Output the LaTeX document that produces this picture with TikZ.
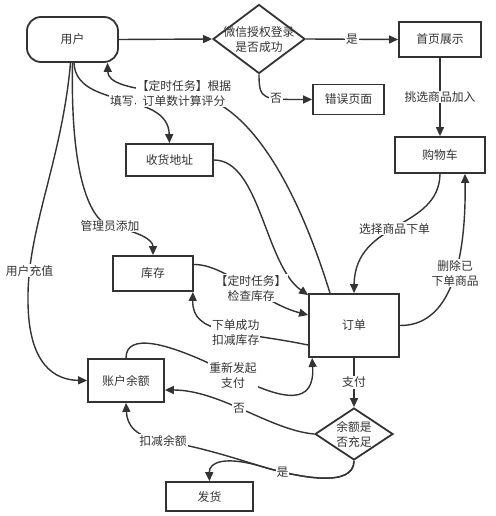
\documentclass[tikz,border=0pt]{standalone}
\usepackage{fontspec}
\setmainfont{Noto Sans CJK SC}
\usetikzlibrary{shapes.geometric,arrows.meta}
\definecolor{ink}{HTML}{333333}
\newcommand\dfont{\fontsize{11.8}{15}\selectfont}
\begin{document}
\begin{tikzpicture}[x=1pt,y=-1pt,
  box/.style={draw=ink,line width=1.8pt,fill=white,text=ink,font=\dfont,inner sep=0pt},
  dia/.style={box,diamond},
  ntext/.style={text=ink,font=\dfont,align=center,inner sep=0pt},
  arr/.style={draw=ink,line width=1.4pt,-{Triangle[length=9pt,width=8pt]}},
  lbl/.style={fill=white,text=ink,font=\dfont,align=center,inner sep=1pt}]
\useasboundingbox[fill=white] (0,0) rectangle (495,516);

% nodes
\node[box,rounded corners=14pt,minimum width=91pt,minimum height=45pt] (user) at (72.5,39.5) {用户};
\node[dia,minimum width=92pt,minimum height=69pt] (d1) at (259,39) {};
\node[ntext] (d1t) at (259,40) {微信授权登录\\是否成功};
\node[box,minimum width=82pt,minimum height=35pt] (home) at (440,39.5) {首页展示};
\node[box,minimum width=71pt,minimum height=30pt] (err) at (348.5,99.5) {错误页面};
\node[box,minimum width=87pt,minimum height=32pt] (addr) at (169.5,160) {收货地址};
\node[box,minimum width=90pt,minimum height=36pt] (cart) at (440,155) {购物车};
\node[box,minimum width=80pt,minimum height=35pt] (stock) at (153,273.5) {库存};
\node[box,minimum width=90pt,minimum height=63pt] (order) at (354,325.5) {订单};
\node[box,minimum width=76pt,minimum height=43pt] (acct) at (126,380.5) {账户余额};
\node[dia,minimum width=78pt,minimum height=52pt] (d2) at (354,434) {};
\node[ntext] (d2t) at (354,434) {余额是\\否充足};
\node[box,minimum width=87pt,minimum height=29pt] (ship) at (209.5,496.5) {发货};

% connectors
\draw[arr] (user.east) -- (d1.west);
\draw[arr] (d1.east) -- node[lbl]{是} (home.west);
\draw[arr] (d1.south) .. controls (259,100) and (263,99.5) .. node[lbl,pos=0.66]{否} (err.west);
\draw[arr] (home.south) -- node[lbl]{挑选商品加入} (cart.north);
\draw[arr] (cart.south) .. controls (439,230) and (355,220) .. node[lbl,pos=0.52]{选择商品下单} (order.north);
\draw[arr] (order.east) .. controls (455,326) and (466,250) .. node[lbl,pos=0.53]{删除已\\下单商品} ([xshift=25pt]cart.south);

\draw[arr] ([xshift=-2pt]user.south) .. controls (62,160) and (27,230) .. node[lbl,pos=0.86]{用户充值} (28,300) .. controls (28,365) and (55,380) .. (acct.west);
\draw[arr] (user.south) .. controls (70,190) and (95,222) .. (110,226) node[lbl]{管理员添加} .. controls (140,232) and (153,240) .. (stock.north);
\draw[arr] ([xshift=1.5pt]user.south) .. controls (76,110) and (168,90) .. node[lbl,pos=0.5]{填写} (addr.north);
\draw[arr] ([xshift=-24pt]order.north) .. controls (295,180) and (245,96) .. (184,93) node[lbl]{【定时任务】根据\\订单数计算评分} .. controls (125,90) and (108,82) .. ([xshift=35pt]user.south);

\draw[arr] (addr.east) .. controls (260,160) and (265,265) .. ([yshift=-2pt]order.north west);
\draw[arr] ([yshift=9pt]stock.east) .. controls (225,264) and (262,303) .. node[lbl,pos=0.55]{【定时任务】\\检查库存} ([yshift=10.5pt]order.west);
\draw[arr] ([yshift=-19.5pt]order.west) .. controls (235,330) and (192,335) .. node[lbl,pos=0.4]{下单成功\\扣减库存} ([xshift=-1pt]stock.south east);
\draw[arr] (acct.north) .. controls (126,333) and (165,340) .. (233,375) node[lbl]{重新发起\\支付} .. controls (285,402) and (315,405) .. ([xshift=4pt]order.south west);
\draw[arr] (d2.west) .. controls (270,430) and (220,390) .. node[lbl,pos=0.53]{否} ([yshift=-9.5pt]acct.east);
\draw[arr] (order.south) -- node[lbl]{支付} (d2.north);
\draw[arr] (d2.south) .. controls (354,488) and (300,478) .. (260,466) .. controls (225,455) and (195,446) .. (163,441) node[lbl]{扣减余额} .. controls (135,437) and (127,425) .. (acct.south);
\draw[arr] (d2.south) .. controls (354,488) and (300,478) .. node[lbl,pos=0.82]{是} (260,466) .. controls (225,456) and (209,462) .. (ship.north);
\end{tikzpicture}
\end{document}
